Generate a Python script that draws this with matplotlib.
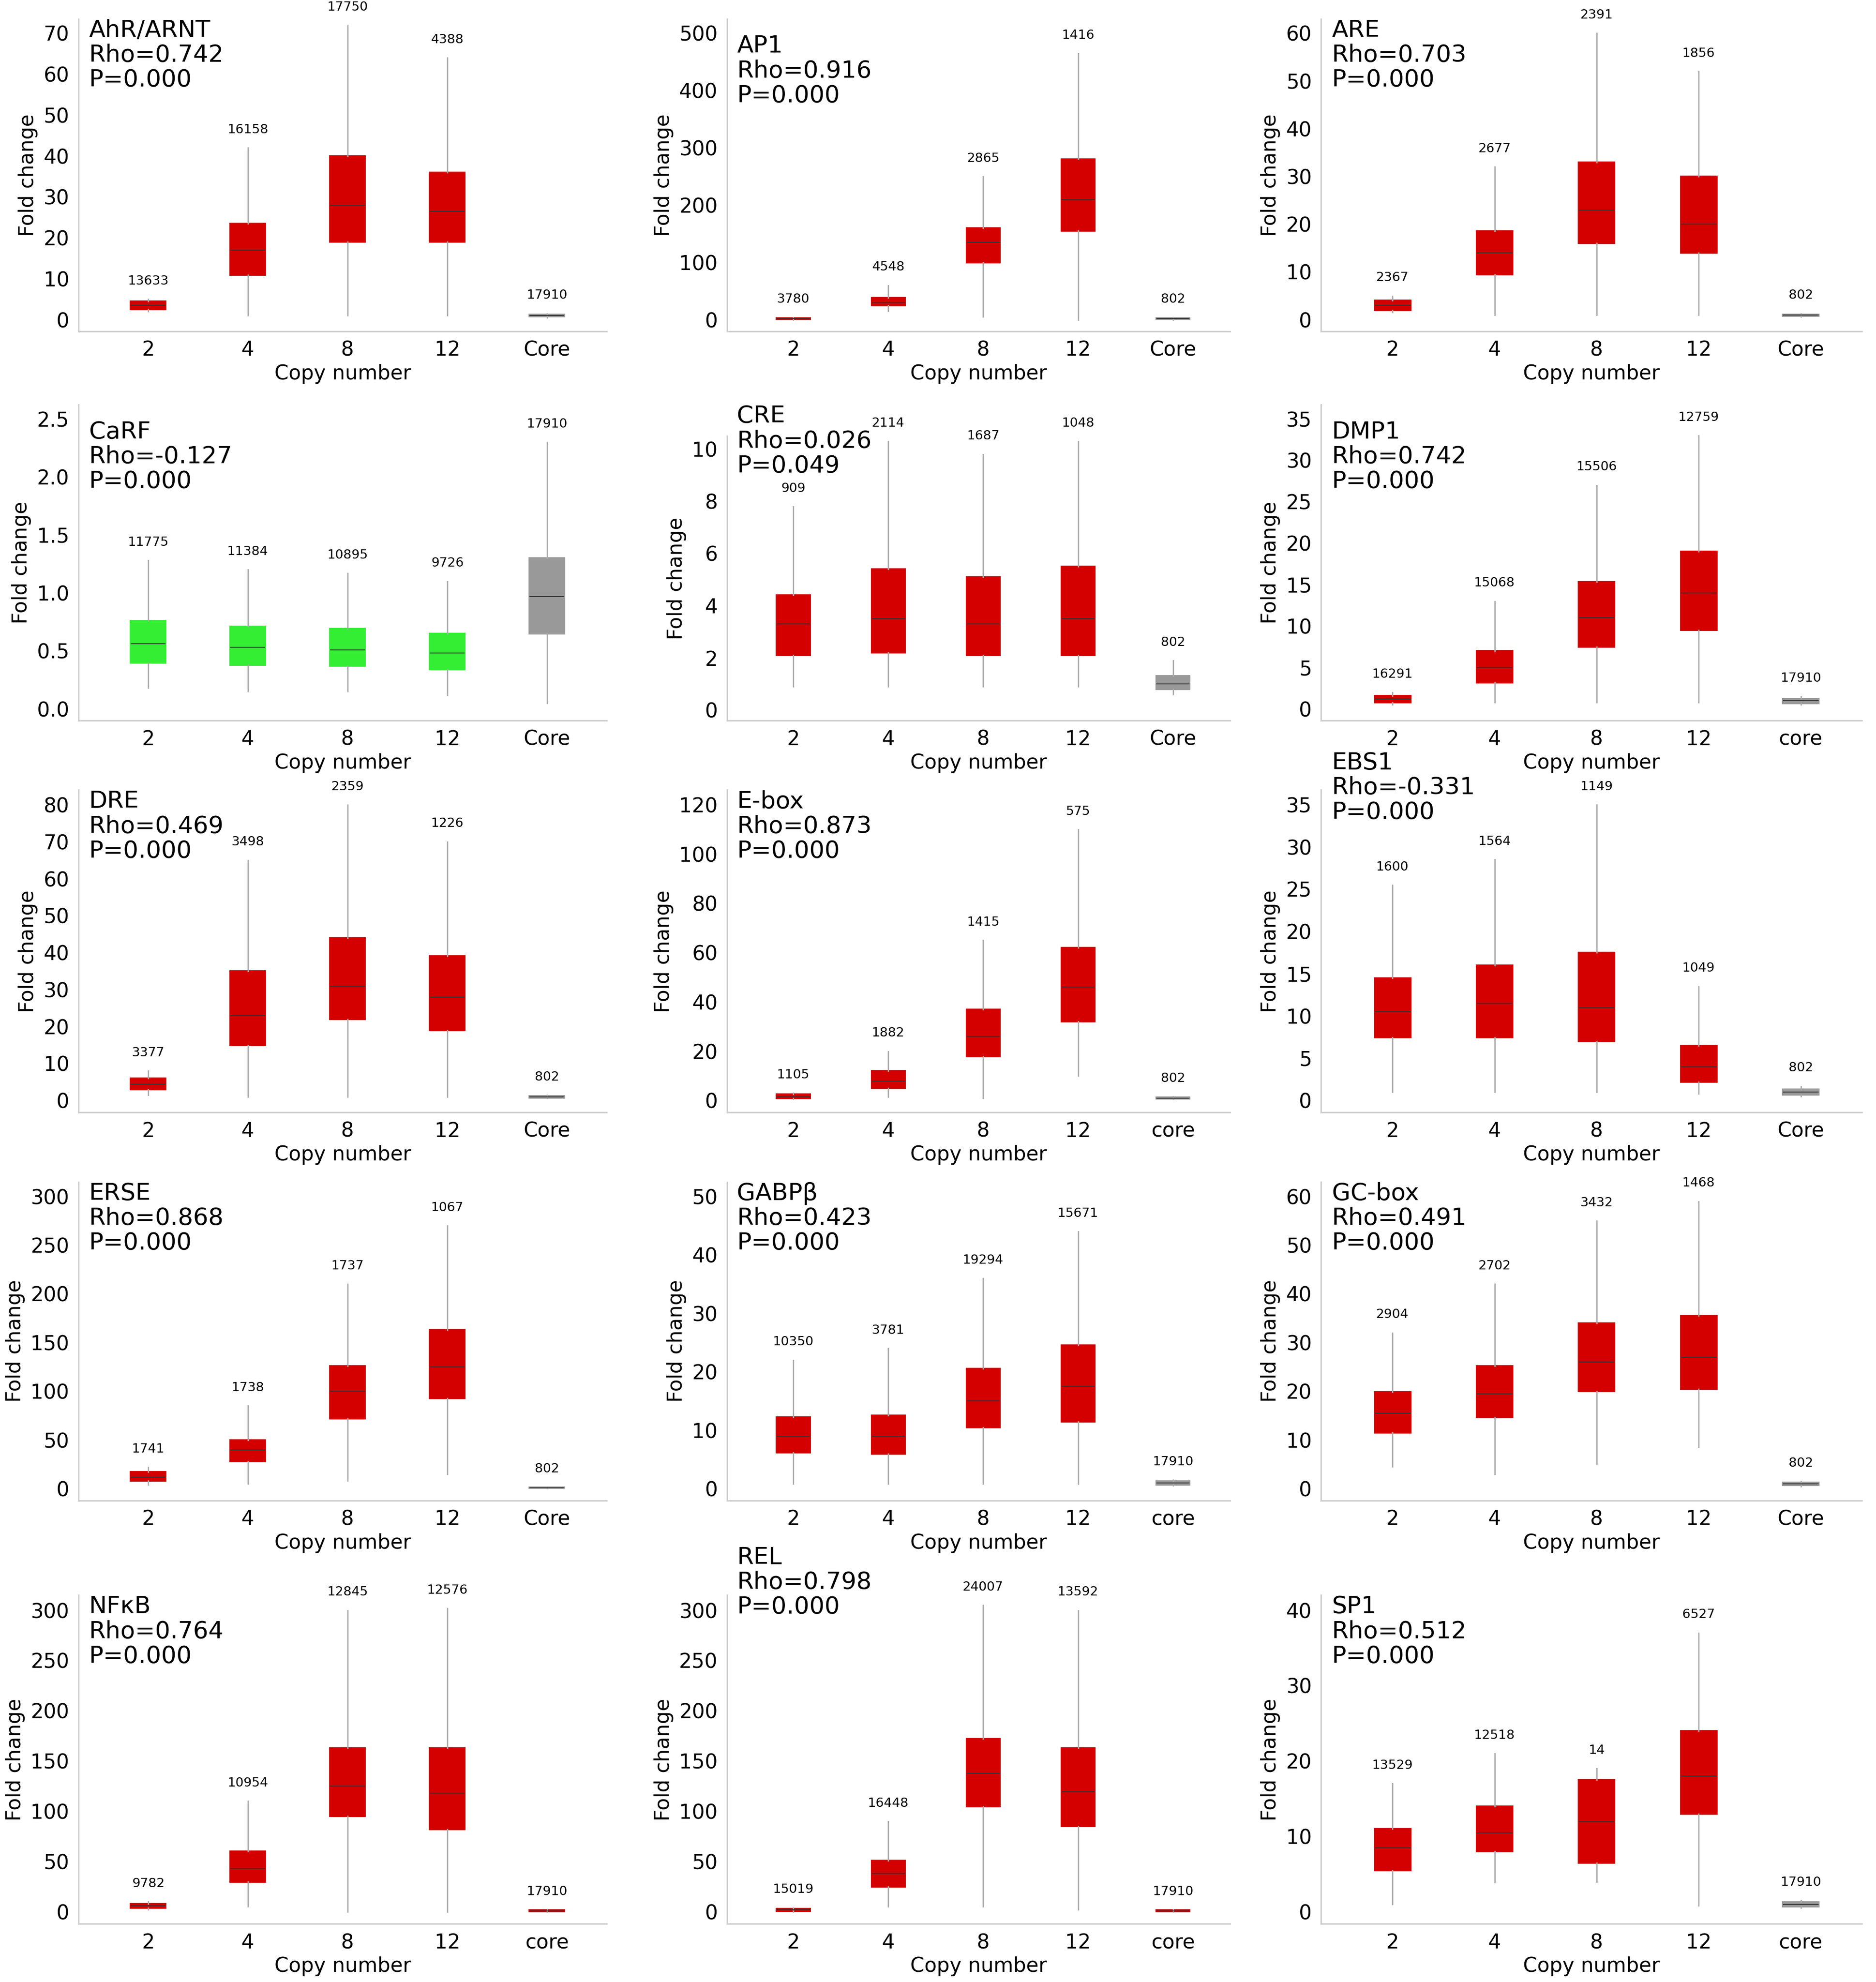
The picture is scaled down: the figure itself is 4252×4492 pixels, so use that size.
import matplotlib
matplotlib.use('Agg')
import matplotlib.pyplot as plt

plt.rcParams['font.family'] = ['DejaVu Sans']

# per panel: name, rho, p, core label, yticks top, step, box colour, core colour
names = ['AhR/ARNT', 'AP1', 'ARE', 'CaRF', 'CRE', 'DMP1', 'DRE', 'E-box', 'EBS1',
         'ERSE', 'GABPβ', 'GC-box', 'NFκB', 'REL', 'SP1']
rhos = ['0.742', '0.916', '0.703', '-0.127', '0.026', '0.742', '0.469', '0.873', '-0.331',
        '0.868', '0.423', '0.491', '0.764', '0.798', '0.512']
pvals = ['0.000', '0.000', '0.000', '0.000', '0.049', '0.000', '0.000', '0.000', '0.000',
         '0.000', '0.000', '0.000', '0.000', '0.000', '0.000']
core_names = ['Core', 'Core', 'Core', 'Core', 'Core', 'core', 'Core', 'core', 'Core',
              'Core', 'core', 'Core', 'core', 'core', 'core']
ytops = [70, 500, 60, 2.5, 10, 35, 80, 120, 35, 300, 50, 60, 300, 300, 40]
ysteps = [10, 100, 10, 0.5, 2, 5, 10, 20, 5, 50, 10, 10, 50, 50, 10]
copies = ['2', '4', '8', '12']

# each box: (whislo, q1, med, q3, whishi) for 2, 4, 8, 12, core
stats = [
    [(2, 2.5, 3.5, 4.5, 5), (1, 11, 17, 23.5, 42), (1, 19, 28, 40, 72), (1, 19, 26.5, 36, 64), (0.5, 0.8, 1, 1.2, 1.5)],
    [(0, 1, 2, 3, 4), (15, 25, 30, 38, 60), (5, 100, 135, 160, 250), (0, 155, 210, 280, 465), (0, 1, 2, 3, 4)],
    [(1.5, 2, 3, 4, 5), (1, 9.5, 14, 18.5, 32), (1, 16, 23, 33, 60), (1, 14, 20, 30, 52), (0.6, 0.8, 1, 1.1, 1.3)],
    [(0.18, 0.4, 0.56, 0.76, 1.28), (0.15, 0.38, 0.53, 0.71, 1.2), (0.15, 0.37, 0.51, 0.69, 1.17), (0.12, 0.34, 0.48, 0.65, 1.1), (0.05, 0.65, 0.97, 1.3, 2.3)],
    [(0.9, 2.1, 3.3, 4.4, 7.8), (0.9, 2.2, 3.5, 5.4, 10.3), (0.9, 2.1, 3.3, 5.1, 9.8), (0.9, 2.1, 3.5, 5.5, 10.3), (0.6, 0.8, 1, 1.3, 1.9)],
    [(0.5, 0.8, 1.2, 1.6, 2), (0.8, 3.2, 5, 7, 13), (0.8, 7.5, 11, 15.3, 27), (0.8, 9.5, 14, 19, 33), (0.5, 0.7, 1, 1.2, 1.5)],
    [(1.5, 3, 4.5, 6, 8), (1, 15, 23, 35, 65), (1, 22, 31, 44, 80), (1, 19, 28, 39, 70), (0.6, 0.8, 1, 1.2, 1.4)],
    [(0.5, 1, 1.5, 2.5, 3), (1.5, 5, 8, 12, 20), (1, 18, 26, 37, 65), (10, 32, 46, 62, 110), (0.5, 0.8, 1, 1.3, 1.6)],
    [(1, 7.5, 10.5, 14.5, 25.5), (1, 7.5, 11.5, 16, 28.5), (1, 7, 11, 17.5, 35), (0.8, 2.2, 4, 6.5, 13.5), (0.5, 0.7, 1, 1.3, 1.7)],
    [(4, 8, 12, 17, 22), (5, 28, 40, 50, 85), (8, 72, 100, 126, 210), (15, 93, 125, 163, 270), (0.5, 0.8, 1, 1.3, 1.5)],
    [(0.8, 6.2, 9, 12.2, 22), (0.8, 6, 9, 12.5, 24), (0.8, 10.5, 15, 20.5, 36), (0.8, 11.5, 17.5, 24.5, 44), (0.5, 0.7, 1, 1.3, 1.5)],
    [(4.5, 11.5, 15.5, 19.8, 32), (3, 14.7, 19.5, 25.2, 42), (5, 20, 26, 34, 55), (8.5, 20.5, 27, 35.5, 59), (0.5, 0.7, 1, 1.3, 1.5)],
    [(2, 4, 6, 8, 10), (5, 30, 43, 60, 110), (0, 95, 125, 163, 300), (0, 82, 118, 163, 302), (0, 0.5, 1, 1.5, 2)],
    [(0, 1, 2, 3, 4), (5, 25, 38, 51, 90), (5, 105, 138, 172, 305), (2, 85, 120, 163, 300), (0, 0.5, 1, 1.5, 2)],
    [(1, 5.5, 8.5, 11, 17), (4, 8, 10.5, 14, 21), (4, 6.5, 12, 17.5, 19), (0.8, 13, 18, 24, 37), (0.5, 0.7, 1, 1.3, 1.5)],
]
counts = [
    [13633, 16158, 17750, 4388, 17910],
    [3780, 4548, 2865, 1416, 802],
    [2367, 2677, 2391, 1856, 802],
    [11775, 11384, 10895, 9726, 17910],
    [909, 2114, 1687, 1048, 802],
    [16291, 15068, 15506, 12759, 17910],
    [3377, 3498, 2359, 1226, 802],
    [1105, 1882, 1415, 575, 802],
    [1600, 1564, 1149, 1049, 802],
    [1741, 1738, 1737, 1067, 802],
    [10350, 3781, 19294, 15671, 17910],
    [2904, 2702, 3432, 1468, 802],
    [9782, 10954, 12845, 12576, 17910],
    [15019, 16448, 24007, 13592, 17910],
    [13529, 12518, 14, 6527, 17910],
]

RED = '#d40000'
GREEN = '#33ee33'
GRAY = '#999999'

W, H = 1484, 1568
col_x = [(62, 418), (575, 398), (1045, 428)]
row_y = [(15, 262), (320, 570), (625, 880), (935, 1187), (1262, 1522)]
title_y = [1.0, 0.95, 1.0, 0.95, 1.11, 0.95, 1.0, 1.0, 1.12, 1.0, 1.0, 1.0, 1.0, 1.15, 1.0]

fig = plt.figure(figsize=(4252 / 300, 4492 / 300), dpi=300)

for i in range(15):
    r, c = divmod(i, 3)
    x0, w = col_x[c]
    t, b = row_y[r]
    if i == 4:
        t = 345
    ax = fig.add_axes([x0 / W, 1 - b / H, w / W, (b - t) / H])
    bxps = []
    for k, (lo, q1, med, q3, hi) in enumerate(stats[i]):
        bxps.append(dict(whislo=lo, q1=q1, med=med, q3=q3, whishi=hi, fliers=[]))
    colors = [RED] * 4 + [GRAY]
    if i == 3:
        colors = [GREEN] * 4 + [GRAY]
    if i in (12, 13):
        colors[4] = RED
    bp = ax.bxp(bxps, positions=range(5), widths=0.35, patch_artist=True, showcaps=False,
                whiskerprops=dict(color='#aaaaaa', lw=0.7),
                medianprops=dict(color='#333333', lw=0.5))
    for patch, col in zip(bp['boxes'], colors):
        patch.set_facecolor(col)
        patch.set_edgecolor(col)
    for k in range(5):
        ax.annotate(str(counts[i][k]), (k, stats[i][k][4]), xytext=(0, 8),
                    textcoords='offset points', ha='center', fontsize=7)
    ax.set_xticks(range(5))
    ax.set_xticklabels(copies + [core_names[i]], fontsize=11)
    top = ytops[i]
    step = ysteps[i]
    n = int(round(top / step))
    ticks = [step * j for j in range(n + 1)]
    ax.set_yticks(ticks)
    ax.set_yticklabels([('%g' % v) if step >= 1 else '%.1f' % v for v in ticks], fontsize=11)
    ax.set_ylim(-top * 0.04, top * 1.05)
    ax.set_xlim(-0.7, 4.6)
    ax.tick_params(length=0, pad=5)
    for s in ('top', 'right'):
        ax.spines[s].set_visible(False)
    for s in ('left', 'bottom'):
        ax.spines[s].set_color('#cccccc')
        ax.spines[s].set_linewidth(0.8)
    ax.set_ylabel('Fold change', fontsize=11, labelpad=3)
    ax.set_xlabel('Copy number', fontsize=11, labelpad=2)
    ax.text(0.02, title_y[i], '%s\nRho=%s\nP=%s' % (names[i], rhos[i], pvals[i]),
            transform=ax.transAxes, va='top', ha='left', fontsize=13, linespacing=1.1)

fig.savefig('out.png', dpi=300)
